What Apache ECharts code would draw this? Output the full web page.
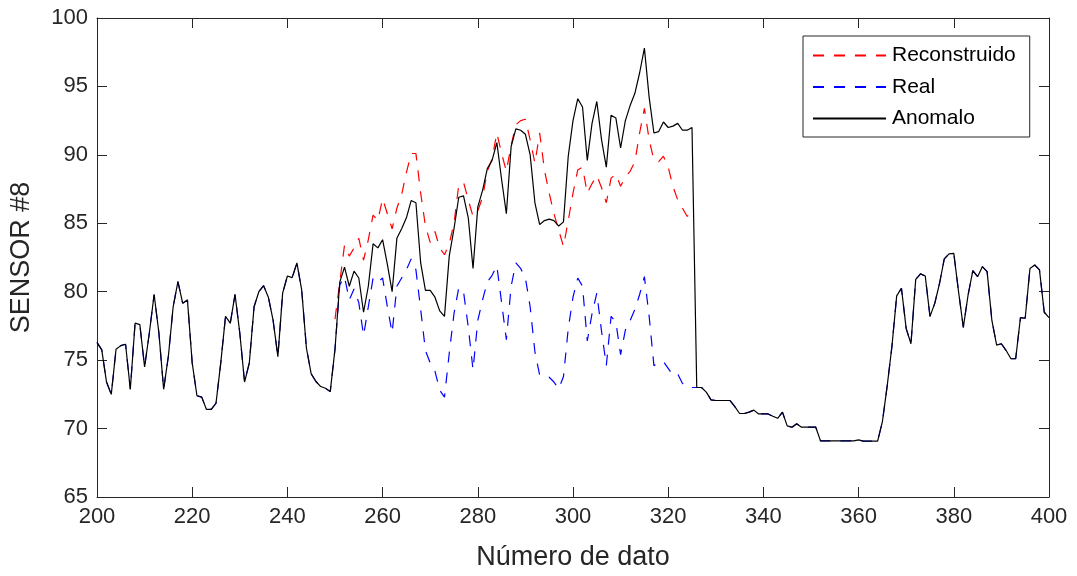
<!DOCTYPE html>
<html>
<head>
<meta charset="utf-8">
<script src="https://cdn.jsdelivr.net/npm/echarts@6/dist/echarts.min.js"></script>
<style>
html,body{margin:0;padding:0;background:#fff;}
#chart{width:1077px;height:576px;}
</style>
</head>
<body>
<div id="chart"></div>
<script>
// Sample numbers (x axis)
const xStart = 200;
const xTicks = [200, 220, 240, 260, 280, 300, 320, 340, 360, 380, 400];
const yTicks = [65, 70, 75, 80, 85, 90, 95, 100];

// Anomalo: samples 200..400
const anomalo = [
 76.3, 75.75, 73.4, 72.5, 75.8, 76.06, 76.16, 72.87, 77.7, 77.6,
 74.5, 77.0, 79.8, 77.0, 72.87, 75.3, 78.9, 80.74, 79.16, 79.4,
 74.8, 72.4, 72.3, 71.4, 71.4, 71.85, 74.8, 78.2, 77.7, 79.8,
 76.98, 73.4, 74.8, 78.9, 80.0, 80.44, 79.6, 77.9, 75.26, 79.9,
 81.15, 81.03, 82.1, 80.13, 75.87, 74.0, 73.44, 73.07, 72.95, 72.7,
 75.8, 80.7, 81.8, 80.4, 81.5, 81.0, 78.5, 80.4, 83.5, 83.2,
 83.8, 82.0, 80.0, 83.9, 84.6, 85.4, 86.66, 86.5, 82.1, 80.1,
 80.1, 79.6, 78.6, 78.2, 82.6, 84.6, 86.9, 87.0, 85.4, 81.7,
 86.2, 87.4, 89.0, 89.6, 90.9, 88.2, 85.7, 90.6, 91.9, 91.8,
 91.5, 90.0, 86.5, 84.9, 85.2, 85.3, 85.2, 84.8, 85.1, 89.9,
 92.5, 94.1, 93.5, 89.6, 92.3, 93.9, 91.1, 89.1, 92.9, 92.7,
 90.5, 92.5, 93.6, 94.5, 96.0, 97.8, 94.2, 91.6, 91.7, 92.4,
 92.0, 92.1, 92.3, 91.8, 91.8, 92.0, 73.0, 73.0, 72.66, 72.1,
 72.05, 72.05, 72.05, 72.05, 71.6, 71.1, 71.1, 71.2, 71.35, 71.07,
 71.07, 71.07, 70.9, 70.75, 71.2, 70.2, 70.1, 70.35, 70.1, 70.1,
 70.1, 70.1, 69.1, 69.1, 69.1, 69.1, 69.1, 69.1, 69.1, 69.1,
 69.17, 69.08, 69.08, 69.08, 69.08, 70.5, 73.1, 76.0, 79.7, 80.25,
 77.3, 76.2, 80.9, 81.3, 81.15, 78.2, 79.15, 80.6, 82.4, 82.76,
 82.8, 80.0, 77.4, 79.76, 81.54, 81.1, 81.83, 81.47, 77.9, 76.1,
 76.2, 75.7, 75.1, 75.1, 78.1, 78.06, 81.7, 81.95, 81.6, 78.5,
 78.1
];

// Real: samples 200..400
const real = [
 76.3, 75.75, 73.4, 72.5, 75.8, 76.06, 76.16, 72.87, 77.7, 77.6,
 74.5, 77.0, 79.8, 77.0, 72.87, 75.3, 78.9, 80.74, 79.16, 79.4,
 74.8, 72.4, 72.3, 71.4, 71.4, 71.85, 74.8, 78.2, 77.7, 79.8,
 76.98, 73.4, 74.8, 78.9, 80.0, 80.44, 79.6, 77.9, 75.26, 79.9,
 81.15, 81.03, 82.1, 80.13, 75.87, 74.0, 73.44, 73.07, 72.95, 72.7,
 75.8, 80.5, 81.1, 79.4, 80.2, 79.2, 76.8, 78.9, 81.0, 80.7,
 81.0, 78.9, 77.0, 80.4, 81.0, 81.6, 82.4, 81.6, 78.7, 75.7,
 74.8, 74.2, 72.8, 72.3, 75.5, 78.4, 80.3, 80.0, 77.4, 74.3,
 77.9, 79.4, 80.7, 81.2, 81.9, 79.2, 76.5, 80.4, 82.1, 81.7,
 81.0, 78.9, 75.6, 73.9, 73.85, 73.75, 73.4, 72.9, 73.8, 77.3,
 79.6, 81.0, 80.4, 76.4, 78.4, 79.9, 77.1, 74.6, 78.2, 77.8,
 75.4, 77.2, 77.9, 78.7, 79.8, 81.1, 78.2, 74.6, 74.8, 74.9,
 74.4, 73.9, 74.0, 73.3, 73.0, 73.0, 73.0, 73.0, 72.66, 72.1,
 72.05, 72.05, 72.05, 72.05, 71.6, 71.1, 71.1, 71.2, 71.35, 71.07,
 71.07, 71.07, 70.9, 70.75, 71.2, 70.2, 70.1, 70.35, 70.1, 70.1,
 70.1, 70.1, 69.1, 69.1, 69.1, 69.1, 69.1, 69.1, 69.1, 69.1,
 69.17, 69.08, 69.08, 69.08, 69.08, 70.5, 73.1, 76.0, 79.7, 80.25,
 77.3, 76.2, 80.9, 81.3, 81.15, 78.2, 79.15, 80.6, 82.4, 82.76,
 82.8, 80.0, 77.4, 79.76, 81.54, 81.1, 81.83, 81.47, 77.9, 76.1,
 76.2, 75.7, 75.1, 75.1, 78.1, 78.06, 81.7, 81.95, 81.6, 78.5,
 78.1
];

// Reconstruido: samples 250..325
const reconStart = 250;
const reconstruido = [
 78.0, 80.7, 83.4, 82.6, 83.2, 83.9, 82.3, 83.8, 85.6, 85.2,
 86.8, 85.7, 84.6, 86.1, 87.1, 88.7, 90.1, 90.1, 87.2, 84.8,
 83.6, 84.4, 83.2, 82.7, 83.5, 85.0, 87.8, 88.0, 86.7, 85.5,
 85.9, 86.9, 88.8, 89.7, 91.6, 90.1, 88.8, 90.7, 92.2, 92.5,
 92.6, 91.1, 89.4, 91.6, 88.9, 87.2, 85.7, 84.5, 83.3, 85.2,
 87.2, 88.9, 89.1, 87.2, 87.9, 88.5, 87.6, 86.5, 88.3, 88.6,
 87.7, 88.4, 88.8, 89.5, 91.6, 93.4, 91.1, 89.6, 89.5, 89.9,
 89.1, 87.7, 86.7, 86.1, 85.5, 85.85
];

const seriesNames = ['Reconstruido', 'Real', 'Anomalo'];

function pairs(start, arr) { return arr.map((v, i) => [start + i, v]); }

const FONT = '"Liberation Sans", Arial, sans-serif';
const AX = '#262626';

const chart = echarts.init(document.getElementById('chart'), null, {renderer: 'canvas'});

const hiddenAxisCommon = {
  axisLine: {show: true, lineStyle: {color: AX, width: 1}},
  axisTick: {show: true, inside: true, length: 10, lineStyle: {color: AX}},
  axisLabel: {show: false},
  splitLine: {show: false}
};

chart.setOption({
  animation: false,
  backgroundColor: '#fff',
  grid: {left: 97, right: 28, top: 18, bottom: 79, containLabel: false},
  legend: {
    data: seriesNames,
    orient: 'vertical',
    left: 803, top: 36,
    padding: [9, 14, 8, 9],
    itemWidth: 73, itemHeight: 14, itemGap: 10.5,
    borderColor: AX, borderWidth: 1, backgroundColor: '#fff',
    textStyle: {fontFamily: FONT, fontSize: 21, color: '#000', lineHeight: 21, padding: [0, 0, 0, 1]},
    itemStyle: {opacity: 0},
    selectedMode: false
  },
  xAxis: [{
    type: 'value', min: 200, max: 400, interval: 20, position: 'bottom',
    name: 'Número de dato', nameLocation: 'middle', nameGap: 47,
    nameTextStyle: {fontFamily: FONT, fontSize: 27, color: AX},
    axisLine: {show: true, onZero: false, lineStyle: {color: AX, width: 1}},
    axisTick: {show: true, inside: true, length: 10, lineStyle: {color: AX}},
    axisLabel: {fontFamily: FONT, fontSize: 22, color: AX, margin: 9,
      formatter: v => xTicks.includes(v) ? String(v) : ''},
    splitLine: {show: false}
  }, Object.assign({type: 'value', min: 200, max: 400, interval: 20, position: 'top'}, hiddenAxisCommon)],
  yAxis: [{
    type: 'value', min: 65, max: 100, interval: 5, position: 'left',
    name: 'SENSOR #8', nameLocation: 'middle', nameGap: 62,
    nameTextStyle: {fontFamily: FONT, fontSize: 27, color: AX},
    axisLine: {show: true, onZero: false, lineStyle: {color: AX, width: 1}},
    axisTick: {show: true, inside: true, length: 10, lineStyle: {color: AX}},
    axisLabel: {fontFamily: FONT, fontSize: 22, color: AX, margin: 9,
      formatter: v => yTicks.includes(v) ? String(v) : ''},
    splitLine: {show: false}
  }, Object.assign({type: 'value', min: 65, max: 100, interval: 5, position: 'right'}, hiddenAxisCommon)],
  series: [
    {
      name: 'Reconstruido', type: 'line', xAxisIndex: 0, yAxisIndex: 0,
      data: pairs(reconStart, reconstruido), symbol: 'none', showSymbol: false,
      lineStyle: {color: '#ff0000', width: 1.2, type: [11, 10]},
      itemStyle: {color: '#ff0000'}
    },
    {
      name: 'Real', type: 'line', xAxisIndex: 0, yAxisIndex: 0,
      data: pairs(xStart, real), symbol: 'none', showSymbol: false,
      lineStyle: {color: '#0000ff', width: 1.2, type: [11, 10]},
      itemStyle: {color: '#0000ff'}
    },
    {
      name: 'Anomalo', type: 'line', xAxisIndex: 0, yAxisIndex: 0,
      data: pairs(xStart, anomalo), symbol: 'none', showSymbol: false,
      lineStyle: {color: '#000000', width: 1.2, type: 'solid'},
      itemStyle: {color: '#000000'}
    }
  ]
});
</script>
</body>
</html>
